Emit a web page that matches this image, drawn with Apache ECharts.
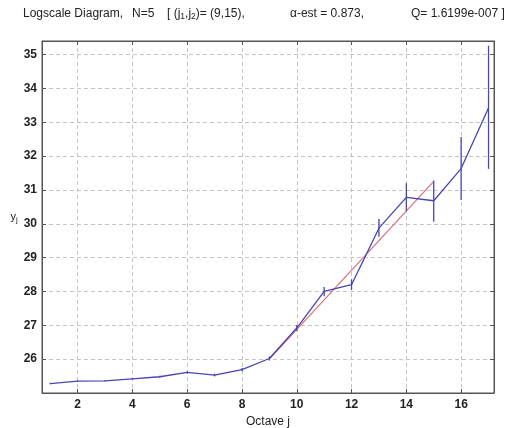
<!DOCTYPE html>
<html>
<head>
<meta charset="utf-8">
<script src="https://cdn.jsdelivr.net/npm/echarts@6/dist/echarts.min.js"></script>
<style>
  html, body { margin: 0; padding: 0; background: #fff; }
  #chart { width: 513px; height: 428px; }
</style>
</head>
<body>
<div id="chart"></div>
<script>
// octaves j and estimated y_j
var octaves = [1, 2, 3, 4, 5, 6, 7, 8, 9, 10, 11, 12, 13, 14, 15, 16, 17];
var yj      = [25.28, 25.35, 25.36, 25.42, 25.48, 25.61, 25.53, 25.69, 26.02, 26.92, 28.0, 28.2, 29.87, 30.78, 30.68, 31.63, 33.42];
// confidence interval ends
var yLow    = [25.26, 25.33, 25.34, 25.40, 25.45, 25.58, 25.49, 25.64, 25.96, 26.83, 27.86, 28.04, 29.62, 30.38, 30.06, 30.70, 31.62];
var yHigh   = [25.30, 25.37, 25.38, 25.44, 25.51, 25.64, 25.57, 25.74, 26.08, 27.01, 28.13, 28.36, 30.14, 31.20, 31.28, 32.56, 35.26];
// regression line over (j1,j2) = (9,15)
var fitJ = [9, 15];
var fitY = [26.0, 31.25];

var xTickLabels = [2, 4, 6, 8, 10, 12, 14, 16];
var yTickLabels = [26, 27, 28, 29, 30, 31, 32, 33, 34, 35];

var lineData = octaves.map(function(j, i){ return [j, yj[i]]; });
var barData = octaves.map(function(j, i){ return [j, yLow[i], yHigh[i]]; });
var fitData = fitJ.map(function(j, i){ return [j, fitY[i]]; });

var axisCol = '#555';
var txtCol = '#222';
var fnt = 'Liberation Sans';
var gridLine = {show: true, lineStyle: {color: '#c4c4c4', type: [4, 3], width: 1}};

// title is laid out in pieces, like the matlab one
function titlePiece(x, txt){
	return {
		type: 'text', left: x, top: 8,
		style: {
			text: txt, fill: txtCol, font: '12px ' + fnt,
			rich: {
				t: {fontFamily: fnt, fontSize: 12, fill: txtCol},
				s: {fontFamily: fnt, fontSize: 8.5, fill: txtCol, padding: [6, 0, 0, 0]}
			}
		}
	};
}

var myChart = echarts.init(document.getElementById('chart'));
var option = {
	animation: false,
	backgroundColor: '#fff',
	graphic: [
		titlePiece(23, 'Logscale Diagram,'),
		titlePiece(132, 'N=5'),
		titlePiece(167, '{t|[ (j}{s|1}{t|,j}{s|2}{t|)= (9,15),}'),
		titlePiece(290, '\u03b1-est = 0.873,'),
		titlePiece(411, 'Q= 1.6199e-007 ]')
	],
	grid: {left: 42, top: 41, right: 19, bottom: 35, outerBoundsMode: 'none', show: true, borderColor: axisCol, borderWidth: 1},
	xAxis: [
		{
			type: 'value', min: 0.7, max: 17.2,
			name: 'Octave j', nameLocation: 'middle', nameGap: 19,
			nameTextStyle: {fontFamily: fnt, fontSize: 12, color: txtCol},
			axisLine: {show: true, onZero: false, lineStyle: {color: axisCol}},
			axisTick: {show: true, inside: true, length: 4, customValues: xTickLabels, lineStyle: {color: axisCol}},
			axisLabel: {
				fontFamily: fnt, fontSize: 12, fontWeight: 'bold', color: txtCol, margin: 6,
				customValues: xTickLabels
			},
			splitLine: gridLine
		},
		{
			type: 'value', min: 0.7, max: 17.2, position: 'top',
			axisLine: {show: true, onZero: false, lineStyle: {color: axisCol}},
			axisTick: {show: true, inside: true, length: 4, customValues: xTickLabels, lineStyle: {color: axisCol}},
			axisLabel: {show: false}, splitLine: {show: false}
		}
	],
	yAxis: [
		{
			type: 'value', min: 25, max: 35.4, interval: 1,
			name: '{a|y}{b|j}', nameLocation: 'middle', nameRotate: 0, nameGap: 20,
			nameTextStyle: {
				rich: {
					a: {fontFamily: fnt, fontSize: 11, color: txtCol},
					b: {fontFamily: fnt, fontSize: 8, color: txtCol, padding: [6, 0, 0, 0]}
				}
			},
			axisLine: {show: true, onZero: false, lineStyle: {color: axisCol}},
			axisTick: {show: true, inside: true, length: 4, lineStyle: {color: axisCol}},
			axisLabel: {
				fontFamily: fnt, fontSize: 12, fontWeight: 'bold', color: txtCol, margin: 5,
				formatter: function(v){ return yTickLabels.indexOf(v) >= 0 ? String(v) : ''; }
			},
			splitLine: gridLine
		},
		{
			type: 'value', min: 25, max: 35.4, interval: 1, position: 'right',
			axisLine: {show: true, onZero: false, lineStyle: {color: axisCol}},
			axisTick: {show: true, inside: true, length: 4, lineStyle: {color: axisCol}},
			axisLabel: {show: false}, splitLine: {show: false}
		}
	],
	series: [
		{
			type: 'line', data: fitData, xAxisIndex: 0, yAxisIndex: 0,
			symbol: 'none', lineStyle: {color: '#d9707a', width: 1.2}, z: 3
		},
		{
			type: 'line', data: lineData, xAxisIndex: 0, yAxisIndex: 0,
			symbol: 'none', lineStyle: {color: '#4646b4', width: 1.3}, z: 4
		},
		{
			type: 'custom', data: barData, xAxisIndex: 0, yAxisIndex: 0, z: 5,
			renderItem: function(params, api){
				var lo = api.coord([api.value(0), api.value(1)]);
				var hi = api.coord([api.value(0), api.value(2)]);
				return {
					type: 'line',
					shape: {x1: lo[0], y1: lo[1], x2: hi[0], y2: hi[1]},
					style: {stroke: '#4646b4', lineWidth: 1.3}
				};
			}
		}
	]
};
myChart.setOption(option);
</script>
</body>
</html>
